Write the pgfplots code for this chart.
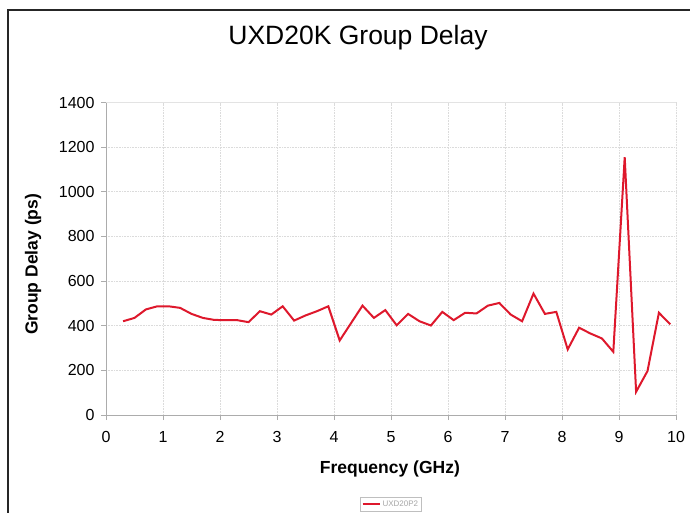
\documentclass[border=0pt]{standalone}
\usepackage{pgfplots}
\pgfplotsset{compat=1.18}
\usepackage{fontspec}
\setmainfont{Liberation Sans}
\definecolor{delayred}{RGB}{222,24,44}

\begin{document}
\begin{tikzpicture}
\clip (0pt,0pt) rectangle (690pt,-512pt);
\useasboundingbox (0pt,0pt) rectangle (690pt,-512pt);
% outer frame (cut off at right and bottom)
\draw[line width=2.8pt, black!85] (8pt,-520pt) -- (8pt,-10pt) -- (700pt,-10pt);
\node[font=\fontsize{26.5}{30}\selectfont] at (358pt,-38pt) {UXD20K Group Delay};
\begin{axis}[
  at={(106pt,-415pt)}, anchor=south west,
  scale only axis,
  width=570pt, height=312.5pt,
  xmin=0, xmax=10, ymin=0, ymax=1400,
  xtick={0,1,...,10},
  ytick={0,200,...,1400},
  axis lines*=left,
  axis line style={gray!65, line width=0.9pt},
  tick align=outside,
  major tick length=5pt,
  major tick style={gray!65, line width=0.9pt},
  grid=major,
  major grid style={gray!28, line width=0.6pt, dash pattern=on 1pt off 0.6pt},
  /pgf/number format/assume math mode=true,
  /pgf/number format/set thousands separator={},
  tick label style={font=\fontsize{16}{18}\selectfont},
  xticklabel style={yshift=-8pt},
  yticklabel style={xshift=-3pt},
  xlabel={\bfseries Frequency (GHz)},
  ylabel={\bfseries Group Delay (ps)},
  label style={font=\fontsize{17.5}{20}\selectfont},
  xlabel style={at={(axis description cs:0.498,-0.173)}, anchor=center},
  ylabel style={at={(axis description cs:-0.128,0.482)}, anchor=center},
  legend style={at={(axis description cs:0.5,-0.285)}, anchor=center,
    font=\fontsize{8}{9}\selectfont, text=gray!70, draw=gray!50,
    inner sep=1.5pt, row sep=0pt},
  legend image post style={line width=1.6pt},
  legend cell align=left,
]
\draw[gray!22, line width=0.9pt] (rel axis cs:0,1) -- (rel axis cs:1,1) -- (rel axis cs:1,0);
\addplot[delayred, line width=2pt] coordinates {
  (0.3,420) (0.5,435) (0.7,473) (0.9,487) (1.1,487) (1.3,480)
  (1.5,453) (1.7,435) (1.9,426) (2.1,425) (2.3,425) (2.5,416)
  (2.7,465) (2.9,450) (3.1,487) (3.3,423) (3.5,446) (3.7,465)
  (3.9,487) (4.1,334) (4.3,412) (4.5,490) (4.7,435) (4.9,470)
  (5.1,402) (5.3,453) (5.5,420) (5.7,401) (5.9,462) (6.1,425)
  (6.3,458) (6.5,455) (6.7,490) (6.9,502) (7.1,450) (7.3,420)
  (7.5,544) (7.7,453) (7.9,462) (8.1,294) (8.3,391) (8.5,365)
  (8.7,343) (8.9,283) (9.1,1155) (9.3,104) (9.5,197) (9.7,458)
  (9.9,406)
};
\addlegendentry{UXD20P2}
\end{axis}
\end{tikzpicture}
\end{document}
